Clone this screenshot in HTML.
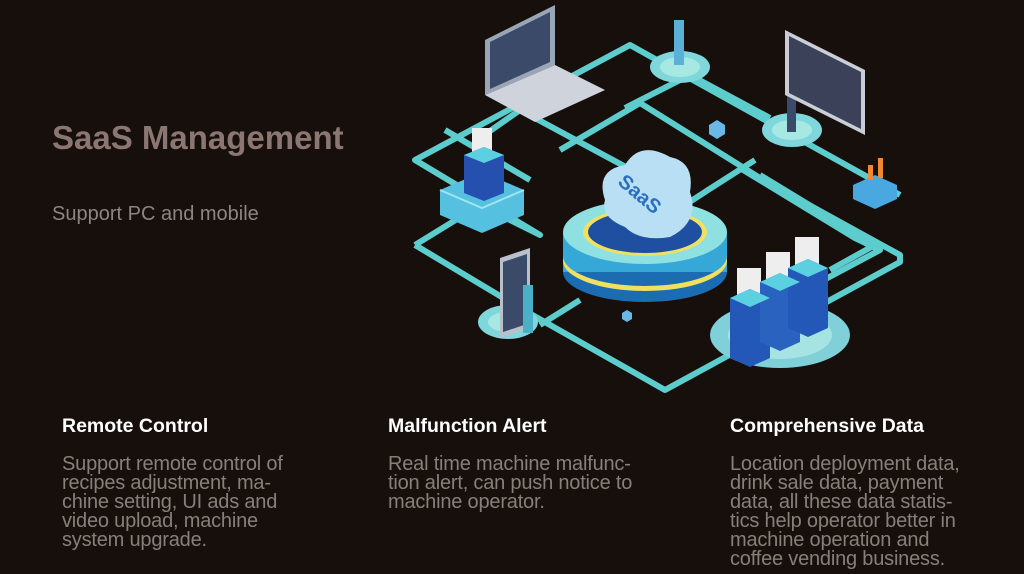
<!DOCTYPE html>
<html><head><meta charset="utf-8"><style>
html,body{margin:0;padding:0}
body{width:1024px;height:574px;background:#170f0c;position:relative;overflow:hidden;font-family:"Liberation Sans",sans-serif}
.t{position:absolute;white-space:nowrap}
h1{position:absolute;left:52px;top:119px;margin:0;font-size:33px;font-weight:bold;color:#8b7671;white-space:nowrap}
.sub{left:52px;top:203px;font-size:20px;color:#8c8580}
.h{top:415px;font-size:19.5px;font-weight:bold;color:#fff}
.b{top:455px;font-size:20px;line-height:19px;color:#858079;letter-spacing:-0.2px}
</style></head><body>
<svg width="1024" height="574" style="position:absolute;left:0;top:0">
<g fill="none" stroke="#5ccdcc" stroke-width="6" stroke-linejoin="round">
<polyline points="415,245 480,205 540,235 415,160 630,45 900,195"/>
<polyline points="415,245 520,308 665,390 900,262 900,255 760,178 640,103 560,150"/>
<polyline points="480,138 520,110 650,180"/>
<polyline points="625,108 690,75 770,118"/>
<polyline points="755,160 708,190 685,205"/>
<polyline points="740,168 855,238 880,250 820,282"/>
<polyline points="760,175 875,245 830,270"/>
<polyline points="580,300 540,325"/>
<polyline points="445,130 530,180"/>
</g>
<!-- central platform -->
<ellipse cx="645" cy="272" rx="82" ry="30" fill="#1c6cb2"/>
<rect x="563" y="232" width="164" height="40" fill="#36a8d8"/>
<path d="M563,256 a82,30 0 0 0 164,0 v5 a82,30 0 0 1 -164,0z" fill="#f0e060"/>
<ellipse cx="645" cy="232" rx="82" ry="32" fill="#8fe0e0"/>
<ellipse cx="645" cy="232" rx="62" ry="24" fill="#f0e060"/>
<ellipse cx="645" cy="232" rx="57" ry="21" fill="#1f4fa0"/>
<!-- cloud -->
<path d="M605,200 q-10,-30 20,-35 q15,-25 45,-8 q25,5 20,35 q10,30 -20,45 q-30,5 -45,-10 q-25,-10 -20,-27z" fill="#b8dff3"/>
<text x="618" y="200" font-size="20" font-weight="bold" fill="#2a6fc0" transform="rotate(40 640 190)" font-family="Liberation Sans">SaaS</text>
<!-- left server -->
<path d="M440,190 l42,-18 l42,18 v25 l-42,18 l-42,-18z" fill="#56c0e0"/>
<path d="M440,190 l42,18 l42,-18" fill="none" stroke="#9fe6ee" stroke-width="2"/>
<rect x="472" y="128" width="20" height="25" fill="#eee"/>
<path d="M464,155 l20,-8 l20,8 v38 l-20,8 l-20,-8z" fill="#2550b0"/>
<path d="M464,155 l20,-8 l20,8 l-20,8z" fill="#5ad0e0"/>
<!-- laptop -->
<path d="M485,40 l70,-35 v60 l-70,30z" fill="#9aa6b8"/>
<path d="M490,42 l60,-30 v50 l-60,27z" fill="#3a4a68"/>
<path d="M485,95 l70,-30 l50,25 l-70,32z" fill="#cfd4dc"/>
<!-- persons/pads -->
<ellipse cx="680" cy="67" rx="30" ry="16" fill="#7fd7db"/>
<ellipse cx="680" cy="67" rx="20" ry="10" fill="#a8e8e2"/>
<rect x="674" y="20" width="10" height="45" fill="#5bb0d8"/>
<ellipse cx="792" cy="130" rx="30" ry="17" fill="#7fd7db"/>
<ellipse cx="792" cy="130" rx="20" ry="10" fill="#a8e8e2"/>
<rect x="787" y="90" width="9" height="42" fill="#3a4a6a"/>
<path d="M785,30 l80,40 v65 l-80,-40z" fill="#c8cdd6"/>
<path d="M789,36 l72,36 v57 l-72,-36z" fill="#3a4158"/>
<ellipse cx="508" cy="322" rx="30" ry="17" fill="#7fd7db"/>
<ellipse cx="508" cy="322" rx="20" ry="10" fill="#a8e8e2"/>
<path d="M500,258 l30,-10 v80 l-30,10z" fill="#b8c0cc"/>
<path d="M503,262 l24,-8 v70 l-24,8z" fill="#3a4a68"/>
<rect x="523" y="285" width="10" height="48" fill="#4ab0c8"/>
<!-- chart box right -->
<path d="M853,185 l22,-10 l22,10 v14 l-22,10 l-22,-10z" fill="#4aa8e0"/>
<rect x="868" y="165" width="5" height="15" fill="#f08a30"/><rect x="878" y="158" width="5" height="20" fill="#f08a30"/>
<!-- server cluster -->
<ellipse cx="780" cy="335" rx="70" ry="33" fill="#7fd0d8"/>
<ellipse cx="780" cy="335" rx="52" ry="24" fill="#a6e4e4"/>
<rect x="737" y="268" width="24" height="30" fill="#eee"/><rect x="766" y="252" width="24" height="30" fill="#eee"/><rect x="795" y="237" width="24" height="30" fill="#eee"/>
<path d="M730,298 l20,-9 l20,9 v60 l-20,9 l-20,-9z" fill="#2458b8"/>
<path d="M760,282 l20,-9 l20,9 v60 l-20,9 l-20,-9z" fill="#2a62c0"/>
<path d="M788,268 l20,-9 l20,9 v60 l-20,9 l-20,-9z" fill="#2458b8"/>
<path d="M730,298 l20,-9 l20,9 l-20,9z M760,282 l20,-9 l20,9 l-20,9z M788,268 l20,-9 l20,9 l-20,9z" fill="#5ad0e0"/>
<path d="M709,125 l8,-5 l8,5 v9 l-8,5 l-8,-5z" fill="#6ab8e8"/>
<path d="M622,313 l5,-3 l5,3 v6 l-5,3 l-5,-3z" fill="#6ab8e8"/>
</svg>
<h1>SaaS Management</h1>
<div class="t sub">Support PC and mobile</div>
<div class="t h" style="left:62px">Remote Control</div>
<div class="t h" style="left:388px">Malfunction Alert</div>
<div class="t h" style="left:730px">Comprehensive Data</div>
<div class="t b" style="left:62px">Support remote control of<br>recipes adjustment, ma-<br>chine setting, UI ads and<br>video upload, machine<br>system upgrade.</div>
<div class="t b" style="left:388px">Real time machine malfunc-<br>tion alert, can push notice to<br>machine operator.</div>
<div class="t b" style="left:730px">Location deployment data,<br>drink sale data, payment<br>data, all these data statis-<br>tics help operator better in<br>machine operation and<br>coffee vending business.</div>
</body></html>
